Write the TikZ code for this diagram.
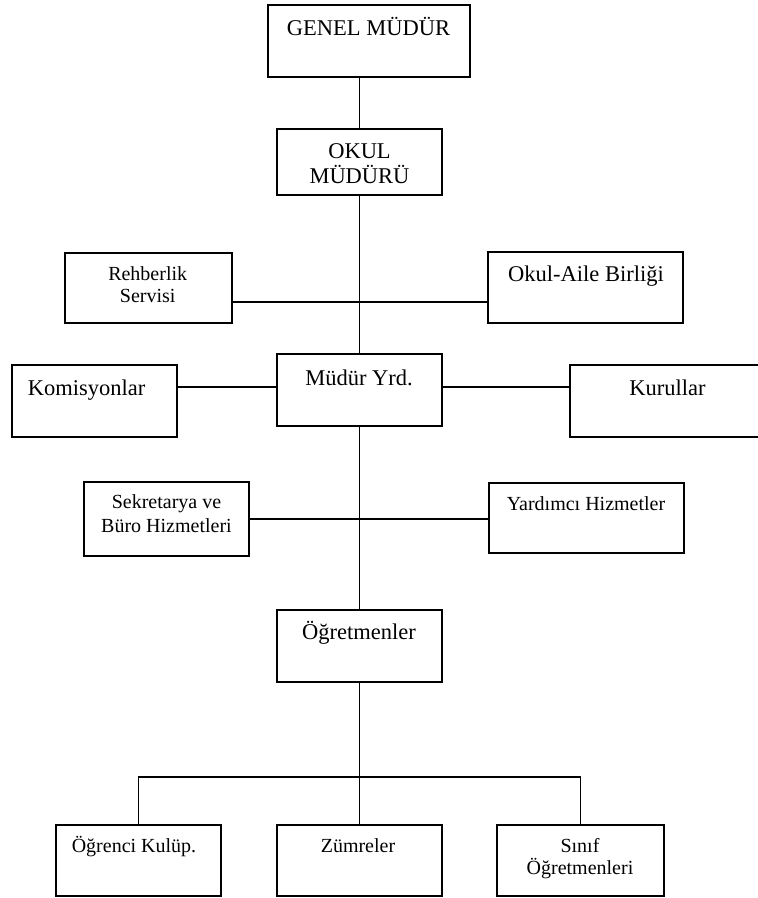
\documentclass[tikz,border=0pt]{standalone}
\usepackage{fontspec}
\setmainfont{Liberation Serif}
\usepackage{tikz}

\begin{document}
\begin{tikzpicture}[x=0.5pt,y=-0.5pt]
\tikzstyle{box}=[draw,line width=0.9pt,inner sep=0pt,minimum width=82.5pt,minimum height=36pt]
\tikzstyle{big}=[inner sep=0pt,anchor=base,align=center,font=\fontsize{11.25}{12.5}\selectfont]
\tikzstyle{small}=[inner sep=0pt,anchor=base,align=center,font=\fontsize{10}{11}\selectfont]
\useasboundingbox (0,0) rectangle (758,898);
\node[box,minimum width=101pt] (B_0) at (369,41) {};
\node[box,minimum height=33pt] (B_1) at (359.5,162) {};
\node[box,minimum width=83.5pt,minimum height=35pt] (B_2) at (148.5,288) {};
\node[box,minimum width=97.5pt,minimum height=35.5pt] (B_3) at (585.5,287.5) {};
\node[box] (B_4) at (359.5,390) {};
\node[box] (B_5) at (94.5,401) {};
\node[box,minimum width=97.5pt] (B_6) at (667.5,401) {};
\node[box,minimum height=37pt] (B_7) at (166.5,519) {};
\node[box,minimum width=97.5pt,minimum height=35pt] (B_8) at (586.5,518) {};
\node[box] (B_9) at (359.5,646) {};
\node[box,minimum height=35.5pt] (B_10) at (138.5,860.5) {};
\node[box,minimum height=35.5pt] (B_11) at (359.5,860.5) {};
\node[box,minimum width=83.5pt,minimum height=35.5pt] (B_12) at (580.5,860.5) {};
\node[big] (T_0) at (368.5,36) {GENEL MÜDÜR};
\node[big] (T_1) at (359.5,183.3) {OKUL\\MÜDÜRÜ};
\node[small] (T_2) at (147.7,302.7) {Rehberlik\\Servisi};
\node[big] (T_3) at (586,281.7) {Okul-Aile Birliği};
\node[big] (T_4) at (359,385) {Müdür Yrd.};
\node[big] (T_5) at (86.5,395) {Komisyonlar};
\node[big] (T_6) at (667.5,395) {Kurullar};
\node[small,font=\fontsize{10}{12}\selectfont] (T_7) at (166.5,532.7) {Sekretarya ve\\Büro Hizmetleri};
\node[small] (T_8) at (586,510.7) {Yardımcı Hizmetler};
\node[big] (T_9) at (359,639.3) {Öğretmenler};
\node[small] (T_10) at (134,852) {Öğrenci Kulüp.};
\node[small] (T_11) at (358,852) {Zümreler};
\node[small] (T_12) at (580,874) {Sınıf\\Öğretmenleri};
\coordinate (J_0) at (359.5,302);
\coordinate (J_1) at (359.5,387);
\coordinate (J_2) at (359.5,519);
\coordinate (J_3) at (359.5,777);
\draw[line width=0.9pt] (B_0.south -| B_1.north) -- (B_1.north) (B_1) -- (B_4) (B_4) -- (B_9) (B_9) -- (B_11);
\draw[line width=0.9pt] (J_0 -| B_2.east) -- (J_0 -| B_3.west);
\draw[line width=0.9pt] (J_1 -| B_5.east) -- (J_1 -| B_4.west) (J_1 -| B_4.east) -- (J_1 -| B_6.west);
\draw[line width=0.9pt] (J_2 -| B_7.east) -- (J_2 -| B_8.west);
\draw[line width=0.9pt] (B_10.north) |- (J_3) -| (B_12.north);
\end{tikzpicture}
\end{document}
